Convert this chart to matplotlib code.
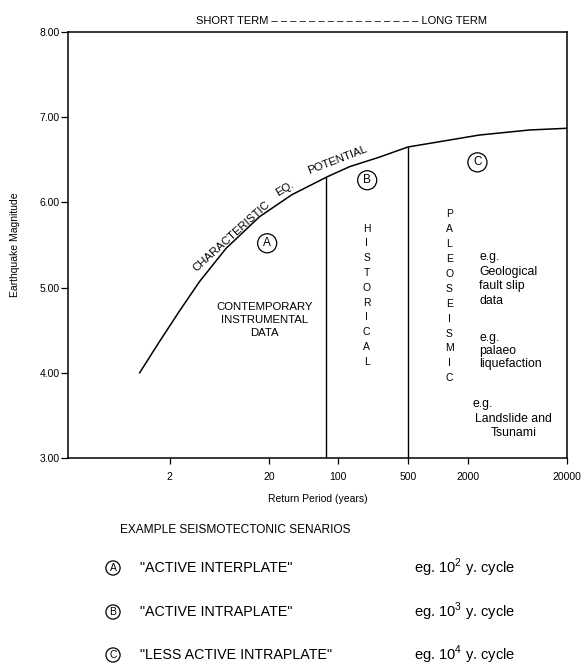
import numpy as np
import matplotlib.pyplot as plt
from matplotlib.ticker import FixedLocator, FixedFormatter, NullLocator

plt.rcParams['font.family'] = ['Liberation Sans', 'DejaVu Sans']
plt.rcParams['mathtext.fontset'] = 'custom'
plt.rcParams['mathtext.rm'] = 'Liberation Sans'

# characteristic EQ potential curve
return_years = [1.0, 1.57, 2.5, 4.0, 7.4, 16, 34, 77, 130, 257, 500, 2600, 8400, 20000]
magnitude = [4.0, 4.36, 4.72, 5.07, 5.46, 5.83, 6.09, 6.30, 6.42, 6.53, 6.65, 6.79, 6.85, 6.87]

# boundaries between contemporary / historical / paleoseismic data
boundary_years = [75, 500]

x_ticks = [2, 20, 100, 500, 2000, 20000]
x_tick_labels = ['2', '20', '100', '500', '2000', '20000']
y_ticks = [3, 4, 5, 6, 7, 8]

scenario_letters = ['A', 'B', 'C']
scenario_names = ['"ACTIVE INTERPLATE"', '"ACTIVE INTRAPLATE"', '"LESS ACTIVE INTRAPLATE"']
scenario_cycles = [2, 3, 4]

W, H = 585, 668
fig = plt.figure(figsize=(W / 100, H / 100), dpi=100)
ax = fig.add_axes([68 / W, 1 - 458 / H, 499 / W, 426 / H])

ax.plot(return_years, magnitude, color='black', lw=1.1)

tops = np.interp(np.log10(boundary_years), np.log10(return_years), magnitude)
ax.vlines(boundary_years, 3, tops, color='black', lw=1.0)

ax.set_xscale('log')
ax.set_xlim(0.19, 20000)
ax.set_ylim(3, 8)
ax.xaxis.set_major_locator(FixedLocator(x_ticks))
ax.xaxis.set_major_formatter(FixedFormatter(x_tick_labels))
ax.xaxis.set_minor_locator(NullLocator())
ax.set_yticks(y_ticks)
ax.set_yticklabels([f'{v:.2f}' for v in y_ticks])
ax.tick_params(axis='both', labelsize=7.5, color='black', width=0.9)
ax.tick_params(axis='x', length=4, pad=6)
ax.tick_params(axis='y', length=5, pad=1)
for s in ax.spines.values():
    s.set_linewidth(1.1)

ax.set_xlabel('Return Period (years)', fontsize=7.5, labelpad=9)
ax.set_ylabel('Earthquake Magnitude', fontsize=7.5, labelpad=14)

# curve label, word by word
txt = dict(fontsize=8.2, ha='center', va='center', rotation_mode='anchor')
ax.text(8.4, 5.60, 'CHARACTERISTIC', rotation=42, **txt)
ax.text(29, 6.16, 'EQ.', rotation=31, **txt)
ax.text(98, 6.50, 'POTENTIAL', rotation=21, **txt)

# circled region letters
circ = dict(fontsize=8.5, ha='center', va='center',
            bbox=dict(boxstyle='circle,pad=0.3', fc='none', ec='black', lw=0.9))
ax.text(19.2, 5.52, 'A', **circ)
ax.text(195, 6.26, 'B', **circ)
ax.text(2510, 6.47, 'C', **circ)

ax.text(17.9, 4.62, 'CONTEMPORARY\nINSTRUMENTAL\nDATA', fontsize=8.2,
        ha='center', va='center', linespacing=1.35)
ax.text(192, 4.91, '\n'.join('HISTORICAL'), fontsize=7.5,
        ha='center', va='center', linespacing=1.6)
ax.text(1313, 4.90, '\n'.join('PALEOSEISMIC'), fontsize=7.5,
        ha='center', va='center', linespacing=1.62)

small = dict(fontsize=8.8, va='center')
ax.text(2630, 5.10, 'e.g.\nGeological\nfault slip\ndata', ha='left',
        linespacing=1.3, **small)
ax.text(2630, 4.26, 'e.g.\npalaeo\nliquefaction', ha='left',
        linespacing=1.12, **small)
ax.text(2240, 3.63, 'e.g.', ha='left', **small)
ax.text(5790, 3.38, 'Landslide and\nTsunami', ha='center',
        linespacing=1.2, **small)

fig.text(342 / W, 1 - 21 / H, 'SHORT TERM ' + '– ' * 16 + 'LONG TERM',
         fontsize=8, ha='center', va='center')

# scenario key below the chart
fig.text(120 / W, 1 - 530 / H, 'EXAMPLE SEISMOTECTONIC SENARIOS',
         fontsize=8.6, ha='left', va='center')
row_y = [568, 612, 655]
for letter, name, cyc, y in zip(scenario_letters, scenario_names, scenario_cycles, row_y):
    fig.text(113 / W, 1 - y / H, letter, fontsize=7.5, ha='center', va='center',
             bbox=dict(boxstyle='circle,pad=0.2', fc='none', ec='black', lw=0.9))
    fig.text(140 / W, 1 - y / H, name, fontsize=10.3, ha='left', va='center')
    fig.text(414 / W, 1 - y / H, f'eg. 10$^{{{cyc}}}$ y. cycle', fontsize=10.5,
             ha='left', va='center')

fig.savefig('out.png', dpi=100)
